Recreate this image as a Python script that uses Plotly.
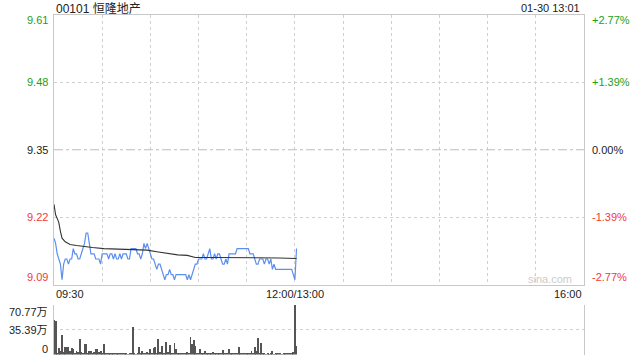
import plotly.graph_objects as go

# ---------------- data ----------------
title_text = "00101 恒隆地产"
time_text = "01-30 13:01"
prev_close = 9.35
price_ticks = [9.61, 9.48, 9.35, 9.22, 9.09]
pct_ticks = ["+2.77%", "+1.39%", "0.00%", "-1.39%", "-2.77%"]
time_tick_vals = [0, 150, 330]
time_tick_text = ["09:30", "12:00/13:00", "16:00"]
vol_ticks = [70.77, 35.39, 0]
vol_tick_text = ["70.77万", "35.39万", "0"]

# minute price (09:30 .. 12:00, 13:00, 13:01)
price = [
    9.18, 9.17, 9.15, 9.14, 9.13, 9.10, 9.13, 9.14, 9.14, 9.13,
    9.14, 9.14, 9.16, 9.15, 9.15, 9.14, 9.14, 9.15, 9.16, 9.17,
    9.19, 9.19, 9.17, 9.15, 9.15, 9.15, 9.14, 9.14, 9.14, 9.13,
    9.15, 9.15, 9.15, 9.15, 9.14, 9.15, 9.15, 9.14, 9.15, 9.14,
    9.14, 9.15, 9.14, 9.15, 9.15, 9.15, 9.14, 9.14, 9.16, 9.16,
    9.16, 9.16, 9.15, 9.15, 9.14, 9.15, 9.17, 9.16, 9.17, 9.16,
    9.15, 9.14, 9.14, 9.13, 9.12, 9.13, 9.13, 9.12, 9.11, 9.10,
    9.11, 9.11, 9.12, 9.11, 9.11, 9.10, 9.11, 9.11, 9.11, 9.11,
    9.11, 9.11, 9.11, 9.10, 9.11, 9.10, 9.11, 9.12, 9.13, 9.13,
    9.14, 9.14, 9.14, 9.15, 9.14, 9.14, 9.15, 9.16, 9.14, 9.14,
    9.15, 9.14, 9.15, 9.15, 9.14, 9.13, 9.13, 9.14, 9.13, 9.15,
    9.15, 9.15, 9.15, 9.15, 9.16, 9.16, 9.16, 9.16, 9.16, 9.16,
    9.16, 9.16, 9.15, 9.15, 9.15, 9.14, 9.13, 9.13, 9.14, 9.14,
    9.14, 9.13, 9.14, 9.14, 9.13, 9.14, 9.12, 9.13, 9.12, 9.12,
    9.12, 9.12, 9.12, 9.12, 9.12, 9.12, 9.12, 9.12, 9.12, 9.11,
    9.10, 9.16,
]

# average price line, read at these minutes
avg_minutes = [0, 1, 2, 3, 4, 5, 7, 10, 14, 18, 24, 31, 39, 49, 58, 64, 70, 77, 83, 88, 100, 120, 140, 151]
avg_values = [9.245, 9.225, 9.218, 9.21, 9.193, 9.18, 9.173, 9.168, 9.166, 9.164, 9.162,
              9.160, 9.159, 9.159, 9.157, 9.154, 9.151, 9.148, 9.147, 9.143, 9.143,
              9.143, 9.142, 9.141]

# minute volume (万股)
volume = [
    49.5, 48, 3, 10, 5, 29, 4, 12, 11, 12,
    5, 10, 9, 3, 6, 4, 22, 4, 3, 15,
    15, 3, 6, 5, 2, 4, 9, 8, 4, 6,
    2, 15, 2, 1.5, 2, 2, 3, 2, 3, 2,
    2, 3, 2, 2, 3, 2, 1, 2, 2, 40,
    2, 1, 2, 11, 2, 6, 3, 2, 4, 2,
    9, 3, 10, 11, 3, 23, 4, 13, 2, 3,
    18, 4, 14, 3, 3, 17, 9, 3, 2, 3,
    2, 3, 2, 4, 3, 25, 16, 21, 13, 2,
    3, 9, 3, 2, 5, 3, 2, 3, 2, 4,
    2, 3, 2, 3, 2, 7, 3, 2, 3, 9,
    3, 2, 3, 2, 3, 12, 3, 2, 3, 2,
    3, 2, 3, 6, 2, 11, 5, 24, 3, 17,
    2, 2, 1, 2, 1, 2, 5, 1, 2, 2,
    3, 2, 1, 2, 2, 3, 2, 2, 3, 4,
    70.77, 13,
]
minutes = list(range(len(price)))

# ---------------- styling ----------------
W, H = 640, 360
X0, X1 = 54, 584
MAIN_TOP, MAIN_BOT = 14.5, 285
VOL_TOP, VOL_BOT = 304.5, 354.5
GREEN = "#1a9e1a"
RED = "#f03a3a"
DARK = "#222222"
GRID = "#d0d0d0"
BORDER = "#c8c8c8"
FONT = "Liberation Sans, Arial, Noto Sans CJK SC, sans-serif"


def py(v):
    return 1 - v / H


fig = go.Figure()

# previous close reference line (drawn first, under the price lines)
fig.add_trace(go.Scatter(x=[0, 330], y=[prev_close, prev_close], mode="lines",
                         line=dict(color="#bdbdbd", width=1, dash="dashdot"),
                         xaxis="x", yaxis="y", hoverinfo="skip"))
fig.add_trace(go.Scatter(x=minutes, y=price, mode="lines",
                         line=dict(color="#5b8ff0", width=1.2),
                         xaxis="x", yaxis="y", hoverinfo="skip"))
fig.add_trace(go.Scatter(x=avg_minutes, y=avg_values, mode="lines",
                         line=dict(color="#333333", width=1.1),
                         xaxis="x", yaxis="y", hoverinfo="skip"))
fig.add_trace(go.Bar(x=minutes, y=volume, width=0.55,
                     marker=dict(color="#555555", line=dict(width=0)),
                     xaxis="x2", yaxis="y2", hoverinfo="skip"))

lo, hi = price_ticks[-1], price_ticks[0]

fig.update_layout(
    width=W, height=H,
    margin=dict(l=0, r=0, t=0, b=0),
    paper_bgcolor="white", plot_bgcolor="white",
    showlegend=False,
    bargap=0,
    font=dict(family=FONT, size=11, color=DARK),
    xaxis=dict(domain=[X0 / W, X1 / W], range=[0, 330], anchor="y",
               tickvals=list(range(0, 331, 30)), showticklabels=False,
               showgrid=True, gridcolor=GRID, griddash="dot", gridwidth=1,
               showline=True, linecolor=BORDER, linewidth=1, mirror=True,
               zeroline=False, ticks=""),
    yaxis=dict(domain=[py(MAIN_BOT), py(MAIN_TOP)], range=[lo, hi], anchor="x",
               tickvals=[p for p in price_ticks if abs(p - prev_close) > 1e-9],
               showticklabels=False,
               showgrid=True, gridcolor=GRID, griddash="dot", gridwidth=1,
               showline=True, linecolor=BORDER, linewidth=1, mirror=True,
               zeroline=False, ticks=""),
    xaxis2=dict(domain=[X0 / W, X1 / W], range=[0, 330], anchor="y2",
                showticklabels=False, showgrid=False, showline=False,
                zeroline=False, ticks=""),
    yaxis2=dict(domain=[py(VOL_BOT), py(VOL_TOP)], range=[0, vol_ticks[0]], anchor="x2",
                tickvals=vol_ticks, showticklabels=False,
                showgrid=True, gridcolor=GRID, griddash="dot", gridwidth=1,
                showline=True, linecolor=BORDER, linewidth=1, mirror=True,
                zeroline=False, ticks=""),
)

ann = []
ann.append(dict(text=title_text, xref="paper", yref="paper", x=X0 / W, y=py(8),
                xanchor="left", yanchor="middle", showarrow=False,
                font=dict(size=12, color=DARK, family=FONT)))
ann.append(dict(text=time_text, xref="paper", yref="paper", x=(X1 - 2) / W, y=py(8),
                xanchor="right", yanchor="middle", showarrow=False,
                font=dict(size=11, color=DARK, family=FONT)))

for i, (p, t) in enumerate(zip(price_ticks, pct_ticks)):
    if p > prev_close + 1e-9:
        col = GREEN
    elif p < prev_close - 1e-9:
        col = RED
    else:
        col = DARK
    shift = -6 if i == 0 else (8 if i == len(price_ticks) - 1 else 0)
    ann.append(dict(text=f"{p:.2f}", xref="paper", yref="y", x=50 / W, y=p,
                    xanchor="right", yanchor="middle", yshift=shift, showarrow=False,
                    font=dict(size=11, color=col, family=FONT)))
    ann.append(dict(text=t, xref="paper", yref="y", x=590 / W, y=p,
                    xanchor="left", yanchor="middle", yshift=shift, showarrow=False,
                    font=dict(size=11, color=col, family=FONT)))

anchors = ["left", "center", "right"]
for v, t, a in zip(time_tick_vals, time_tick_text, anchors):
    ann.append(dict(text=t, xref="x", yref="paper", x=v, y=py(293.5),
                    xanchor=a, yanchor="middle", showarrow=False,
                    font=dict(size=11, color=DARK, family=FONT)))

for i, (v, t) in enumerate(zip(vol_ticks, vol_tick_text)):
    shift = -7 if i == 0 else (6 if i == len(vol_ticks) - 1 else 0)
    ann.append(dict(text=t, xref="paper", yref="y2", x=50 / W, y=v,
                    xanchor="right", yanchor="middle", yshift=shift, showarrow=False,
                    font=dict(size=11, color=DARK, family=FONT)))

ann.append(dict(text="sina.com", xref="paper", yref="paper", x=574 / W, y=py(279),
                xanchor="right", yanchor="middle", showarrow=False,
                font=dict(size=11, color="#cccccc", family=FONT)))

fig.update_layout(annotations=ann)

fig.write_html("out.html")
